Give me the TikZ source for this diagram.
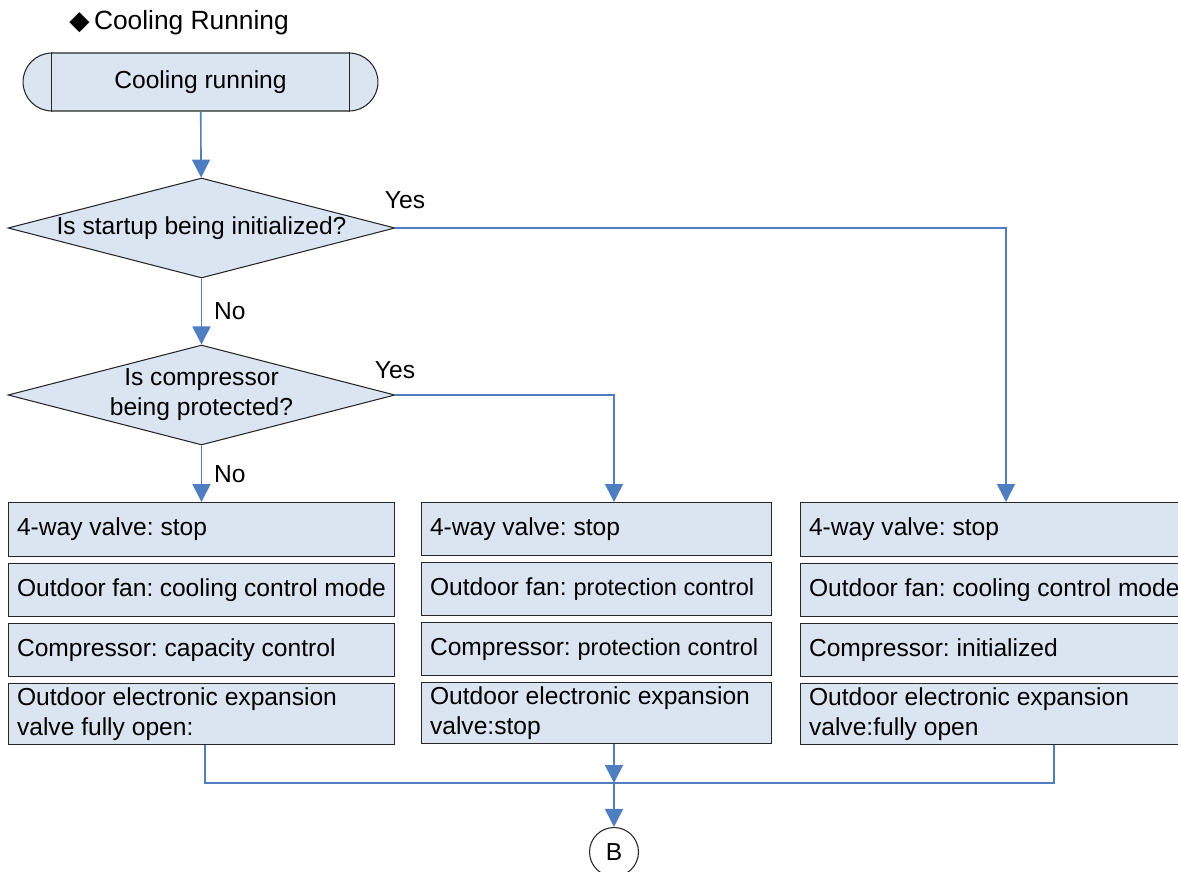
\documentclass[tikz,border=0pt]{standalone}
\usepackage{fontspec}
\setmainfont{Liberation Sans}
\newfontfamily\symbfont{DejaVu Sans}
\usetikzlibrary{shapes.geometric, arrows.meta, positioning, calc}
\definecolor{boxfill}{HTML}{DBE5F1}
\definecolor{boxline}{HTML}{262626}
\definecolor{flowblue}{HTML}{4F7EC0}
\newcommand{\flowfont}{\fontsize{14}{17}\selectfont\frenchspacing}
\newcommand{\smallflow}{\fontsize{13.4}{17}\selectfont}
\newcommand{\headfont}{\fontsize{15}{18}\selectfont}
\tikzset{
  % terminal at the start of the flow
  termbox/.style={draw=boxline, fill=boxfill, line width=0.6pt, rounded corners=0.58cm,
    minimum width=7.1cm, minimum height=1.16cm, font=\flowfont},
  % decision diamond
  decision/.style={diamond, draw=boxline, fill=boxfill, line width=0.6pt, aspect=3.87,
    inner sep=0pt, minimum width=7.74cm, minimum height=2cm, align=center, font=\flowfont},
  % action boxes, one width per column
  actbox/.style={draw=boxline, fill=boxfill, line width=0.6pt, minimum height=1.06cm,
    inner xsep=0.18cm, align=flush left, font=\flowfont},
  act left/.style={actbox, text width=7.38cm},
  act mid/.style={actbox, text width=6.66cm},
  act right/.style={actbox, text width=7.88cm},
  twoline/.style={minimum height=1.22cm, inner ysep=1pt},
  % connectors
  flow/.style={flowblue, line width=0.9pt},
  flowarrow/.style={flow, -{Triangle[length=3.6mm, width=3.6mm]}},
  % branch labels
  lbl/.style={font=\flowfont, text=black, inner sep=1pt},
  % off-page connector
  pageref/.style={circle, draw=boxline, fill=white, line width=0.6pt, minimum size=0.98cm,
    inner sep=0pt, font=\flowfont},
}
\begin{document}
\begin{tikzpicture}[x=0.02cm, y=-0.02cm, node distance=0.12cm]
  \useasboundingbox (0,0) rectangle (1178,872);
  \clip (0,0) rectangle (1178,872);
  \node[anchor=west, font=\headfont, inner sep=0pt] (title) at (69,23) {{\symbfont ◆}\,Cooling Running};
  \node[termbox] (start) at (200.5,82) {Cooling running};
  \draw[boxline, line width=0.6pt] ([xshift=0.58cm]start.north west) -- ([xshift=0.58cm]start.south west);
  \draw[boxline, line width=0.6pt] ([xshift=-0.58cm]start.north east) -- ([xshift=-0.58cm]start.south east);
  \node[decision] (q1) at (201.5,228) {Is startup being initialized?};
  \node[decision] (q2) at (201.5,395) {Is compressor\\being protected?};

  \node[act left, anchor=north, minimum height=1.08cm] (l1) at (201.5,502) {4-way valve: stop};
  \node[act left, below=of l1] (l2) {Outdoor fan: cooling control mode};
  \node[act left, below=of l2] (l3) {Compressor: capacity control};
  \node[act left, below=of l3, twoline] (l4) {Outdoor electronic expansion\\valve fully open:};

  \node[act mid, anchor=north] (m1) at (596.5,502) {4-way valve: stop};
  \node[act mid, below=of m1] (m2) {Outdoor fan: {\smallflow protection control}};
  \node[act mid, below=of m2] (m3) {Compressor: {\smallflow protection control}};
  \node[act mid, below=of m3, twoline] (m4) {Outdoor electronic expansion\\valve:stop};

  \node[act right, anchor=north, minimum height=1.08cm] (r1) at (1006,502) {4-way valve: stop};
  \node[act right, below=of r1] (r2) {Outdoor fan: cooling control mode};
  \node[act right, below=of r2] (r3) {Compressor: initialized};
  \node[act right, below=of r3, twoline] (r4) {Outdoor electronic expansion\\valve:fully open};

  \node[pageref] (pageB) at (614,852) {B};
  \coordinate (merge) at (614,783);

  \draw[flowarrow] (start) -- (q1);
  \draw[flowarrow] (q1) -- node[lbl, right, xshift=0.2cm] {No} (q2);
  \draw[flowarrow] (q2) -- node[lbl, right, xshift=0.2cm] {No} (l1);
  \draw[flowarrow] (q1.east) -| (r1.north);
  \draw[flowarrow] (q2.east) -| ([xshift=0.35cm]m1.north);
  \node[lbl] (yes1) at (405,200) {Yes};
  \node[lbl] (yes2) at (395,370) {Yes};

  \draw[flow] ([xshift=0.07cm]l4.south) |- (merge);
  \draw[flow] ([xshift=0.96cm]r4.south) |- (merge);
  \draw[flowarrow] ([xshift=0.35cm]m4.south) -- (merge);
  \draw[flowarrow] (merge) -- (pageB);
\end{tikzpicture}
\end{document}
